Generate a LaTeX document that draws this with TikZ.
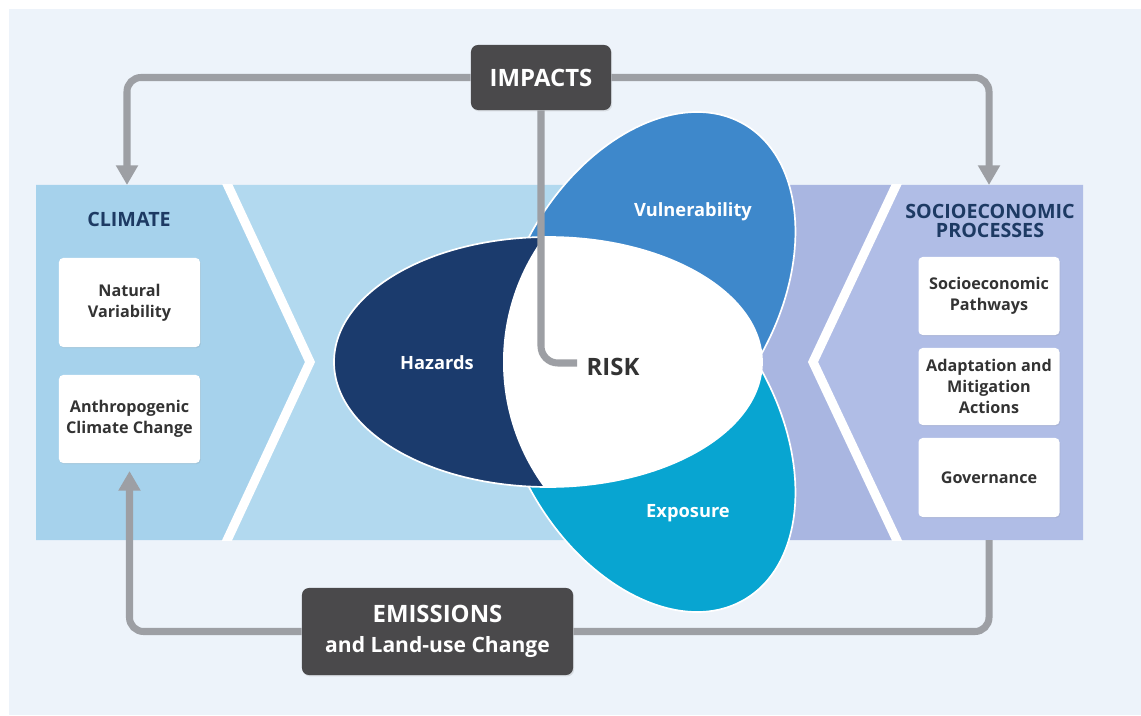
\documentclass[tikz,border=0pt]{standalone}
\usepackage{fontspec}
\setmainfont{Open Sans}
\usetikzlibrary{arrows.meta,shadows}

\definecolor{bgpale}{HTML}{EDF3FA}
\definecolor{climblue}{HTML}{A6D2EC}
\definecolor{midblue}{HTML}{B2D9EF}
\definecolor{lavmid}{HTML}{A9B6E1}
\definecolor{lavright}{HTML}{B0BDE6}
\definecolor{hazcol}{HTML}{1B3B6D}
\definecolor{vulcol}{HTML}{3E88CB}
\definecolor{expcol}{HTML}{08A5D1}
\definecolor{boxgray}{HTML}{4A494B}
\definecolor{linegray}{HTML}{9D9FA4}
\definecolor{headnavy}{HTML}{1D3A63}
\definecolor{textdark}{HTML}{333333}

\newdimen\pxu \pxu=0.7113pt

\tikzset{
  chevron/.style={draw=white, line width=6.5pt},
  petal/.style={draw=white, line width=1.2pt},
  petallabel/.style={text=white, font=\fontsize{13}{15}\selectfont\bfseries},
  heading/.style={text=headnavy, align=center, font=\fontsize{14}{13.5}\selectfont\bfseries},
  whitebox/.style={fill=white, rounded corners=3pt, minimum width=141\pxu, inner sep=0pt,
    align=center, text=textdark, font=\fontsize{11.5}{15}\selectfont\bfseries,
    drop shadow={opacity=0.15, shadow xshift=0.6pt, shadow yshift=-0.8pt}},
  darkbox/.style={fill=boxgray, rounded corners=5pt, inner sep=0pt, align=center, text=white,
    drop shadow={opacity=0.2, shadow xshift=0.8pt, shadow yshift=-1pt}},
  feedback/.style={draw=linegray, line width=5pt, rounded corners=10pt},
  tip/.style={-{Triangle[width=15pt,length=14pt]}}
}

\begin{document}
\begin{tikzpicture}[x=0.025cm,y=-0.025cm]
\useasboundingbox (0,0) rectangle (1141,715);
\fill[bgpale] (9,9) rectangle (1141,715);

% the band behind the risk petals
\fill[climblue] (36,185) -- (228,185) -- (310,362) -- (228,540) -- (36,540) -- cycle;
\fill[midblue] (228,185) -- (740,185) -- (740,540) -- (228,540) -- (310,362) -- cycle;
\fill[lavmid] (740,185) -- (896,185) -- (813,362) -- (896,540) -- (740,540) -- cycle;
\fill[lavright] (896,185) -- (1083,185) -- (1083,540) -- (896,540) -- (813,362) -- cycle;
\begin{scope}
  \clip (36,185) rectangle (1083,540);
  \draw[chevron] (223,175) -- (310,362) -- (223,549);
  \draw[chevron] (901,175) -- (813,362) -- (901,549);
\end{scope}

% petals
\path[petal, fill=vulcol, rotate around={60:(646.5,293)}]
  (646.5,293) ellipse [x radius=195, y radius=130];
\path[petal, fill=expcol, rotate around={-60:(646.5,431)}]
  (646.5,431) ellipse [x radius=195, y radius=130];
\path[petal, fill=hazcol] (548,362) ellipse [x radius=214, y radius=125];
\begin{scope}
  \clip (548,362) ellipse [x radius=214, y radius=125];
  \fill[white] (715,362) circle [radius=212];
\end{scope}

\node[petallabel] (hazards) at (437,363) {Hazards};
\node[petallabel] (vulner) at (693,212) {Vulnerability};
\node[petallabel] (exposure) at (688,513) {Exposure};
\node[text=textdark, font=\fontsize{17}{20}\selectfont\bfseries] (risk) at (613,367) {RISK};

% headings and boxes
\node[heading] (climate) at (129,219) {CLIMATE};
\node[heading] (socio) at (990,221) {SOCIOECONOMIC\\PROCESSES};

\node[whitebox, minimum height=89\pxu] (natural) at (129.5,302.5) {Natural\\Variability};
\node[whitebox, minimum height=88\pxu] (anthro) at (129.5,419) {Anthropogenic\\Climate Change};

\node[whitebox, minimum height=78\pxu] (pathways) at (989,296) {Socioeconomic\\Pathways};
\node[whitebox, minimum height=77\pxu] (adapt) at (989,386.5) {Adaptation and\\Mitigation\\Actions};
\node[whitebox, minimum height=79\pxu] (govern) at (989,477.5) {Governance};

\node[darkbox, minimum width=140\pxu, minimum height=65\pxu,
  font=\fontsize{17}{20}\selectfont\bfseries] (impacts) at (541,77.5) {IMPACTS};
\node[darkbox, minimum width=271\pxu, minimum height=87\pxu,
  font=\fontsize{17}{21}\selectfont\bfseries] (emissions)
  at (437.5,631.5) {EMISSIONS\\\fontsize{15}{21}\selectfont and Land-use Change};

% feedback loops
\coordinate (climtop) at (127,185);
\coordinate (socitop) at (989,185);
\coordinate (socibot) at (989,540);
\coordinate (riskend) at (577,363);

\draw[feedback, tip] (impacts.west) -| (climtop);
\draw[feedback, tip] (impacts.east) -| (socitop);
\draw[feedback, rounded corners=12pt] (impacts.south) |- (riskend);
\draw[feedback] (socibot) |- (emissions.east);
\draw[feedback, tip, shorten >=5.5pt] (emissions.west) -| (anthro.south);
\end{tikzpicture}
\end{document}
